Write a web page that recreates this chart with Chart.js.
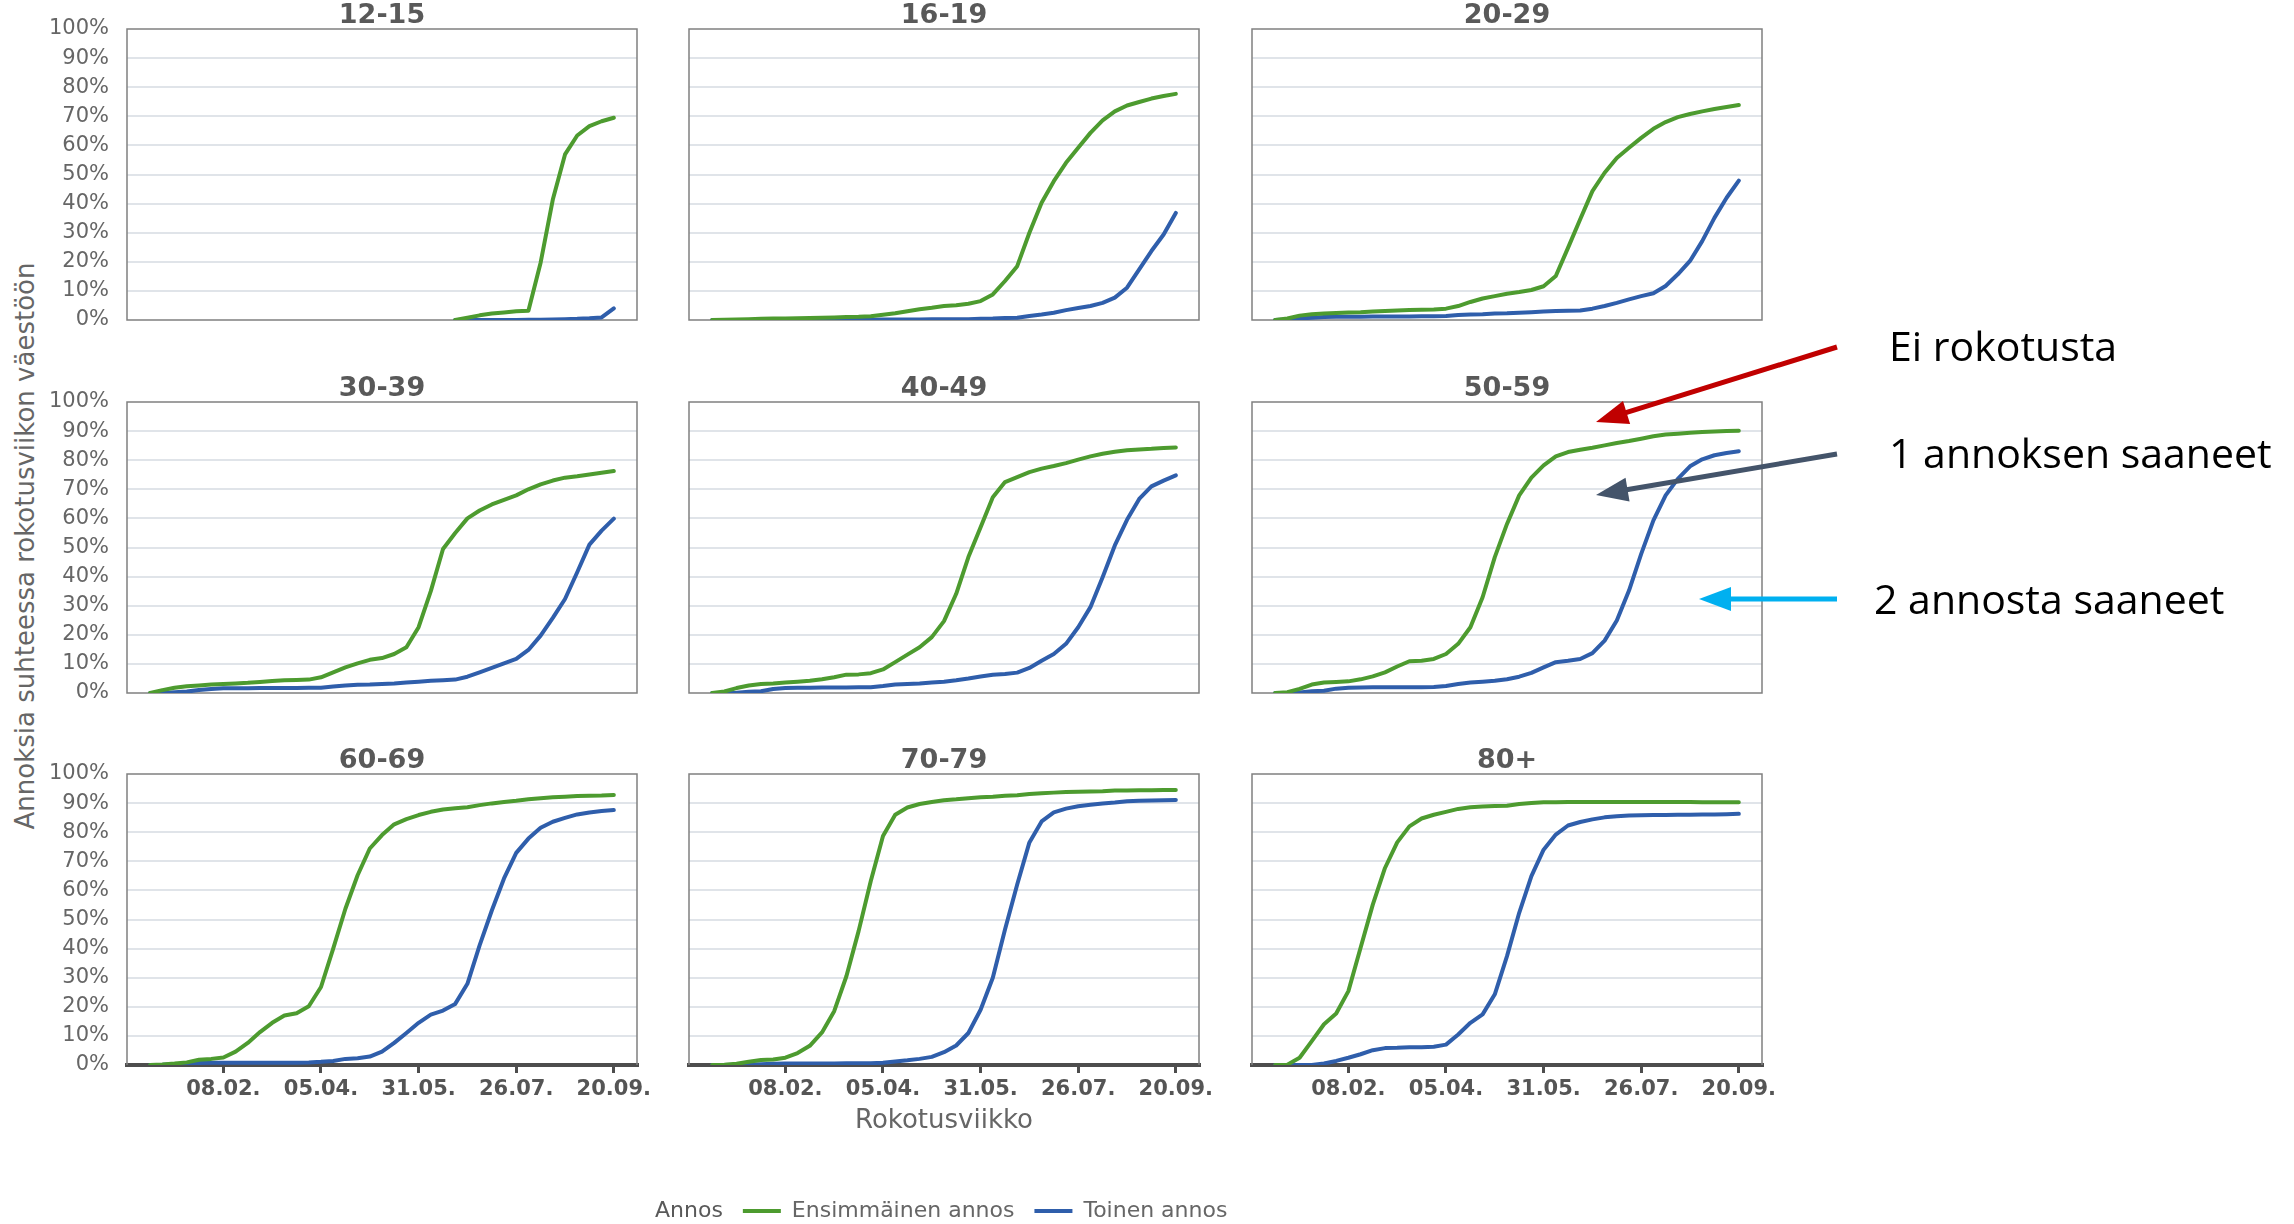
<!DOCTYPE html>
<html lang="fi">
<head>
<meta charset="utf-8">
<title>Rokotuskattavuus ikäryhmittäin</title>
<script src="https://cdn.jsdelivr.net/npm/chart.js@4.4.1/dist/chart.umd.min.js"></script>
<style>
  html, body { margin: 0; padding: 0; background: #fff; overflow: hidden; }
  #page { position: relative; width: 2294px; height: 1224px; overflow: hidden; }
  #page canvas { position: absolute; }
  #ytitle { position: absolute; left: 25px; top: 546px; transform: translate(-50%, -50%) rotate(-90deg);
            font: 26px 'DejaVu Sans', sans-serif; color: #666; white-space: nowrap; line-height: 1; }
  #notes { position: absolute; left: 0; top: 0; }
</style>
</head>
<body>
<div id="page">
  <div id="ytitle">Annoksia suhteessa rokotusviikon väestöön</div>
</div>
<script>
// rokotusviikot (maanantait)
const WEEKS = ['28.12.', '04.01.', '11.01.', '18.01.', '25.01.', '01.02.', '08.02.', '15.02.', '22.02.', '01.03.',
  '08.03.', '15.03.', '22.03.', '29.03.', '05.04.', '12.04.', '19.04.', '26.04.', '03.05.', '10.05.',
  '17.05.', '24.05.', '31.05.', '07.06.', '14.06.', '21.06.', '28.06.', '05.07.', '12.07.', '19.07.',
  '26.07.', '02.08.', '09.08.', '16.08.', '23.08.', '30.08.', '06.09.', '13.09.', '20.09.'];
const X_TICK_LABELS = ['08.02.', '05.04.', '31.05.', '26.07.', '20.09.'];
const Y_TICK_LABELS = ['0%', '10%', '20%', '30%', '40%', '50%', '60%', '70%', '80%', '90%', '100%'];

const AGE_GROUPS = ['12-15', '16-19', '20-29', '30-39', '40-49', '50-59', '60-69', '70-79', '80+'];
const SERIES = ['Ensimmäinen annos', 'Toinen annos'];

// osuus ikäryhmästä, % (luettu kuvasta)
const first_12_15 = [null, null, null, null, null, null, null, null, null, null, null, null, null, null, null, null,
  null, null, null, null, null, null, null, null, null, 0, 0.8, 1.6, 2.2, 2.6, 3.0, 3.2, 19.7, 41.4, 56.9, 63.4, 66.6, 68.3, 69.5];
const second_12_15 = [null, null, null, null, null, null, null, null, null, null, null, null, null, null, null, null,
  null, null, null, null, null, null, null, null, null, 0, 0, 0, 0, 0, 0, 0.1, 0.1, 0.2, 0.3, 0.4, 0.6, 0.9, 4.0];
const first_16_19 = [0, 0.1, 0.2, 0.3, 0.4, 0.5, 0.5, 0.6, 0.7, 0.8, 0.9, 1.0, 1.1, 1.3, 1.8, 2.3, 3.0, 3.7, 4.2, 4.8,
  5.1, 5.6, 6.5, 8.8, 13.4, 18.5, 30.0, 40.3, 47.7, 54.0, 59.2, 64.3, 68.6, 71.7, 73.7, 74.9, 76.1, 77.0, 77.7];
const second_16_19 = [0, 0, 0, 0, 0.1, 0.1, 0.1, 0.1, 0.1, 0.1, 0.1, 0.1, 0.1, 0.1, 0.2, 0.2, 0.2, 0.2, 0.3, 0.3,
  0.3, 0.3, 0.4, 0.5, 0.7, 0.8, 1.4, 1.9, 2.5, 3.4, 4.1, 4.8, 5.9, 7.7, 11.1, 17.4, 23.7, 29.4, 36.8];
const first_20_29 = [0, 0.5, 1.5, 2.0, 2.2, 2.4, 2.6, 2.7, 2.9, 3.1, 3.3, 3.4, 3.5, 3.6, 3.9, 4.8, 6.2, 7.4, 8.2, 9.0,
  9.6, 10.3, 11.6, 15.1, 24.8, 34.6, 44.3, 50.6, 55.7, 59.2, 62.6, 65.7, 68.0, 69.7, 70.8, 71.7, 72.5, 73.2, 73.9];
const second_20_29 = [0, 0.2, 0.5, 0.8, 1.0, 1.1, 1.1, 1.1, 1.2, 1.2, 1.2, 1.2, 1.3, 1.3, 1.4, 1.7, 1.9, 2.0, 2.2, 2.3,
  2.5, 2.7, 2.9, 3.1, 3.2, 3.3, 3.9, 4.8, 5.9, 7.1, 8.2, 9.2, 11.7, 15.7, 20.3, 27.1, 35.1, 42.0, 47.9];
const first_30_39 = [0, 1.0, 1.8, 2.3, 2.6, 2.9, 3.1, 3.3, 3.5, 3.8, 4.1, 4.4, 4.5, 4.6, 5.4, 7.1, 8.8, 10.2, 11.4, 12.0,
  13.4, 15.7, 22.6, 35.0, 49.5, 55.0, 60.0, 62.7, 64.8, 66.4, 67.9, 70.0, 71.7, 73.0, 74.0, 74.5, 75.1, 75.7, 76.3];
const second_30_39 = [0, 0, 0.3, 0.5, 1.0, 1.4, 1.6, 1.6, 1.6, 1.7, 1.7, 1.7, 1.7, 1.8, 1.8, 2.2, 2.6, 2.8, 2.9, 3.1,
  3.3, 3.6, 3.9, 4.2, 4.4, 4.6, 5.6, 7.1, 8.6, 10.2, 11.7, 14.8, 19.7, 25.8, 32.3, 41.5, 51.0, 55.8, 59.9];
const first_40_49 = [0, 0.5, 1.7, 2.6, 3.1, 3.3, 3.6, 3.9, 4.2, 4.7, 5.4, 6.3, 6.4, 6.8, 8.1, 10.6, 13.2, 15.7, 19.2, 24.7,
  34.1, 46.7, 57.0, 67.3, 72.5, 74.2, 75.9, 77.1, 78.0, 79.0, 80.2, 81.3, 82.2, 82.9, 83.4, 83.7, 83.9, 84.2, 84.4];
const second_40_49 = [0, 0, 0.1, 0.4, 0.6, 1.4, 1.7, 1.8, 1.8, 1.9, 1.9, 1.9, 2.0, 2.0, 2.4, 2.9, 3.1, 3.3, 3.6, 3.9,
  4.4, 5.0, 5.7, 6.3, 6.5, 7.0, 8.6, 11.1, 13.4, 16.9, 22.6, 29.5, 39.8, 50.7, 59.5, 66.7, 71.0, 73.0, 74.8];
const first_50_59 = [0, 0.3, 1.4, 2.9, 3.6, 3.8, 4.0, 4.7, 5.7, 7.1, 9.1, 10.9, 11.1, 11.7, 13.4, 16.9, 22.6, 32.9, 46.7, 58.1,
  67.9, 74.0, 78.2, 81.3, 82.8, 83.6, 84.3, 85.1, 85.9, 86.6, 87.4, 88.2, 88.8, 89.1, 89.4, 89.7, 89.9, 90.0, 90.1];
const second_50_59 = [0, 0, 0.2, 0.6, 0.8, 1.5, 1.8, 1.9, 2.0, 2.0, 2.0, 2.0, 2.0, 2.1, 2.4, 3.1, 3.6, 3.9, 4.2, 4.7,
  5.6, 6.9, 8.8, 10.6, 11.1, 11.7, 13.7, 18.0, 24.9, 35.2, 47.8, 59.3, 67.9, 73.6, 77.9, 80.3, 81.7, 82.5, 83.1];
const first_60_69 = [0, 0.2, 0.5, 0.9, 1.8, 2.1, 2.6, 4.6, 7.6, 11.3, 14.5, 17.0, 17.8, 20.2, 26.8, 40.0, 53.7, 65.2, 74.4, 79.0,
  82.7, 84.5, 85.9, 87.0, 87.8, 88.2, 88.6, 89.3, 89.9, 90.4, 90.8, 91.3, 91.7, 92.0, 92.2, 92.4, 92.5, 92.6, 92.8];
const second_60_69 = [0, 0.1, 0.3, 0.5, 0.7, 0.8, 0.8, 0.8, 0.8, 0.8, 0.8, 0.8, 0.8, 0.9, 1.1, 1.4, 2.1, 2.3, 2.9, 4.6,
  7.6, 11.0, 14.5, 17.3, 18.7, 21.0, 27.9, 41.1, 53.1, 64.1, 72.9, 77.8, 81.5, 83.6, 84.9, 86.1, 86.8, 87.3, 87.6];
const first_70_79 = [0, 0.1, 0.4, 1.1, 1.7, 1.9, 2.5, 4.1, 6.6, 11.2, 18.5, 30.5, 46.0, 63.2, 78.7, 86.0, 88.5, 89.7, 90.4, 91.0,
  91.3, 91.7, 92.0, 92.2, 92.5, 92.7, 93.1, 93.4, 93.6, 93.8, 93.9, 94.0, 94.1, 94.3, 94.3, 94.4, 94.4, 94.5, 94.5];
const second_70_79 = [0, 0, 0.1, 0.2, 0.3, 0.4, 0.5, 0.5, 0.5, 0.5, 0.5, 0.6, 0.6, 0.6, 0.8, 1.2, 1.6, 2.1, 2.8, 4.4,
  6.7, 11.0, 19.0, 30.0, 46.6, 62.0, 76.5, 83.7, 86.8, 88.1, 88.9, 89.4, 89.9, 90.2, 90.6, 90.8, 90.9, 91.0, 91.1];
const first_80 = [0, 0.1, 2.5, 8.2, 14.0, 17.7, 25.4, 40.3, 55.1, 67.7, 76.5, 82.0, 84.7, 86.0, 87.0, 88.0, 88.6, 88.8, 89.0, 89.1,
  89.7, 90.0, 90.3, 90.3, 90.4, 90.4, 90.4, 90.4, 90.4, 90.4, 90.4, 90.4, 90.4, 90.4, 90.4, 90.3, 90.3, 90.3, 90.3];
const second_80 = [0, 0, 0, 0, 0.5, 1.4, 2.5, 3.7, 5.1, 5.8, 5.9, 6.1, 6.1, 6.3, 7.0, 10.5, 14.5, 17.4, 24.3, 37.4,
  52.3, 64.9, 74.0, 79.2, 82.3, 83.5, 84.4, 85.1, 85.5, 85.7, 85.8, 85.9, 85.9, 86.0, 86.0, 86.1, 86.1, 86.2, 86.3];

const FIRST = [first_12_15, first_16_19, first_20_29, first_30_39, first_40_49, first_50_59, first_60_69, first_70_79, first_80];
const SECOND = [second_12_15, second_16_19, second_20_29, second_30_39, second_40_49, second_50_59, second_60_69, second_70_79, second_80];

const GREEN = '#4d9b2f';
const BLUE = '#2f5eab';

Chart.defaults.font.family = "'DejaVu Sans', sans-serif";
Chart.defaults.color = '#666';
Chart.defaults.animation = false;

// paneelien paikat sivulla
const PANEL_LEFT = [127, 689, 1252];
const PANEL_TOP = [29, 402, 774];
const PANEL_W = 510, PANEL_H = 291, TITLE_H = 29, TOP_PAD = 8;

// harmaa kehys paneelin ympäri
const panelBorder = {
  id: 'panelBorder',
  beforeDatasetsDraw(chart, args, opts) {
    const { ctx, chartArea: a } = chart;
    ctx.save();
    ctx.strokeStyle = '#808080';
    ctx.lineWidth = 1.5;
    ctx.beginPath();
    if (opts.openBottom) {
      ctx.moveTo(a.left, a.bottom);
      ctx.lineTo(a.left, a.top);
      ctx.lineTo(a.right, a.top);
      ctx.lineTo(a.right, a.bottom);
    } else {
      ctx.rect(a.left, a.top, a.right - a.left, a.bottom - a.top);
    }
    ctx.stroke();
    ctx.restore();
  }
};

const page = document.getElementById('page');
const xTickPos = X_TICK_LABELS.map(l => WEEKS.indexOf(l));

AGE_GROUPS.forEach((name, k) => {
  const r = Math.floor(k / 3), c = k % 3;
  const bottomRow = r === 2;
  const withLegend = k === 7;
  const left = PANEL_LEFT[c], top = PANEL_TOP[r];
  const ct = top - TITLE_H - TOP_PAD;

  let cl = c === 0 ? 0 : left - 12;
  let padLeft = 0, padRight = 30, padBottom = bottomRow ? 5 : 36;
  const xH = bottomRow ? 58 : 0;
  let rightW = 0;
  let ch = TOP_PAD + TITLE_H + PANEL_H + xH + padBottom;
  let cw = left + PANEL_W + padRight - cl;
  if (withLegend) {
    cl = 560; padLeft = 26; padRight = 10; padBottom = 0;
    cw = 1320 - cl;
    rightW = cw - padRight - (left + PANEL_W - cl);
    ch = 1232 - ct;
  }
  const yW = left - cl - padLeft;

  const canvas = document.createElement('canvas');
  canvas.width = cw;
  canvas.height = ch;
  canvas.style.left = cl + 'px';
  canvas.style.top = ct + 'px';
  canvas.style.width = cw + 'px';
  canvas.style.height = ch + 'px';
  page.appendChild(canvas);

  const scales = {
    x: {
      type: 'linear', min: -1.9, max: 39.9,
      display: bottomRow,
      z: 1,
      afterBuildTicks: s => { s.ticks = xTickPos.map(v => ({ value: v })); },
      ticks: {
        callback: v => WEEKS[v], autoSkip: false, maxRotation: 0, padding: 4,
        font: { size: 21, weight: 'bold' }, color: '#555'
      },
      grid: { display: true, drawOnChartArea: false, drawTicks: true, tickLength: 8, color: '#4d4d4d', lineWidth: 3 },
      border: { display: true, color: '#4d4d4d', width: 4 },
      title: withLegend
        ? { display: true, text: 'Rokotusviikko', color: '#666', font: { size: 26, lineHeight: '30px' }, padding: { top: 0, bottom: 44 } }
        : { display: false },
      afterFit: s => {
        s.height = withLegend
          ? (s.chart.height - padBottom - s.chart.legend.height) - (TOP_PAD + TITLE_H + PANEL_H)
          : xH;
      }
    },
    y: {
      min: 0, max: 100,
      ticks: {
        display: c === 0, stepSize: 10, padding: 18,
        callback: (v, i) => Y_TICK_LABELS[i],
        font: { size: 21 }, color: '#666'
      },
      grid: {
        drawTicks: false, lineWidth: 2,
        color: ctx => (ctx.tick && (ctx.tick.value === 0 || ctx.tick.value === 100)) ? 'rgba(0,0,0,0)' : '#e0e4e9'
      },
      border: { display: false },
      afterFit: s => { s.width = yW; }
    }
  };
  if (withLegend) {
    scales.yR = {
      position: 'right', display: true,
      ticks: { display: false }, grid: { display: false }, border: { display: false },
      afterFit: s => { s.width = rightW; }
    };
  }

  new Chart(canvas, {
    type: 'line',
    data: {
      datasets: [
        { label: SERIES[0], data: FIRST[k].map((v, i) => ({ x: i, y: v })), borderColor: GREEN, backgroundColor: GREEN },
        { label: SERIES[1], data: SECOND[k].map((v, i) => ({ x: i, y: v })), borderColor: BLUE, backgroundColor: BLUE }
      ]
    },
    options: {
      responsive: false,
      animation: false,
      layout: { padding: { left: padLeft, right: padRight, top: TOP_PAD, bottom: padBottom } },
      elements: {
        line: { borderWidth: 4, tension: 0, borderJoinStyle: 'round', borderCapStyle: 'round' },
        point: { radius: 0 }
      },
      scales: scales,
      plugins: {
        title: {
          display: true, text: name, fullSize: false, color: '#595959',
          font: { size: 27, weight: 'bold', lineHeight: '26px' },
          padding: { top: 3, bottom: 0 }
        },
        legend: withLegend ? {
          display: true, position: 'bottom', align: 'start',
          labels: {
            boxWidth: 38, boxHeight: 4, padding: 20, font: { size: 22 }, color: '#666',
            generateLabels: chart => [
              { text: 'Annos', fillStyle: 'rgba(0,0,0,0)', strokeStyle: 'rgba(0,0,0,0)', lineWidth: 0, hidden: false, fontColor: '#595959' }
            ].concat(chart.data.datasets.map((d, i) => ({
              text: d.label, fillStyle: d.borderColor, strokeStyle: d.borderColor, lineWidth: 0,
              hidden: false, datasetIndex: i, fontColor: '#666'
            })))
          }
        } : { display: false },
        tooltip: { enabled: false },
        panelBorder: { openBottom: bottomRow }
      }
    },
    plugins: [panelBorder]
  });
});

// selitteet oikealla (nuolet + tekstit)
const NOTES = [
  { text: 'Ei rokotusta', x: 1889, y: 361 },
  { text: '1 annoksen saaneet', x: 1889, y: 468 },
  { text: '2 annosta saaneet', x: 1874, y: 614 }
];
const ARROWS = [
  { from: [1837, 347], to: [1596, 422], color: '#c00000' },
  { from: [1837, 454], to: [1596, 495], color: '#44546a' },
  { from: [1837, 599], to: [1699, 599], color: '#00b0f0' }
];

const NS = 'http://www.w3.org/2000/svg';
const svg = document.createElementNS(NS, 'svg');
svg.setAttribute('id', 'notes');
svg.setAttribute('width', 2294);
svg.setAttribute('height', 1224);
ARROWS.forEach(a => {
  const [x1, y1] = a.from, [x2, y2] = a.to;
  const len = Math.hypot(x2 - x1, y2 - y1);
  const ux = (x2 - x1) / len, uy = (y2 - y1) / len;
  const headL = 32, headW = 12;
  const bx = x2 - ux * headL, by = y2 - uy * headL;
  const line = document.createElementNS(NS, 'line');
  line.setAttribute('x1', x1); line.setAttribute('y1', y1);
  line.setAttribute('x2', bx + ux * 4); line.setAttribute('y2', by + uy * 4);
  line.setAttribute('stroke', a.color); line.setAttribute('stroke-width', 5);
  svg.appendChild(line);
  const head = document.createElementNS(NS, 'polygon');
  head.setAttribute('points', [
    [x2, y2], [bx - uy * headW, by + ux * headW], [bx + uy * headW, by - ux * headW]
  ].map(p => p.join(',')).join(' '));
  head.setAttribute('fill', a.color);
  svg.appendChild(head);
});
NOTES.forEach(n => {
  const t = document.createElementNS(NS, 'text');
  t.setAttribute('x', n.x); t.setAttribute('y', n.y);
  t.setAttribute('font-family', "'Open Sans', sans-serif");
  t.setAttribute('font-size', 41);
  t.setAttribute('fill', '#000');
  t.textContent = n.text;
  svg.appendChild(t);
});
page.appendChild(svg);
</script>
</body>
</html>
